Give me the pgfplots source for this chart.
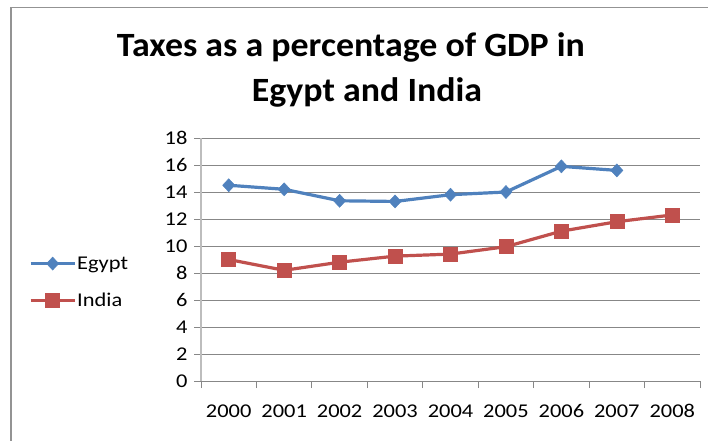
\documentclass[border=0pt]{standalone}
\usepackage{fontspec}
\setmainfont{Carlito}
\newfontfamily\tickfont[FakeStretch=1.15]{Carlito}
\newfontfamily\titlefont[FakeStretch=1.055]{Carlito}
\usepackage{pgfplots}
\pgfplotsset{compat=1.18}
\definecolor{egypt}{HTML}{4F81BD}
\definecolor{india}{HTML}{C0504D}
\definecolor{gridgray}{HTML}{878787}
\definecolor{axisgray}{HTML}{BDBDBD}
\begin{document}
\begin{tikzpicture}[x=1pt,y=1pt]
\path[use as bounding box] (0,0) rectangle (708,440);
\draw[color=gridgray!90, line width=1.6pt] (11,-20) -- (11,432.5) -- (730,432.5);
\node[anchor=base, font=\titlefont\fontsize{34}{40}\selectfont\bfseries] at (351,383) {Taxes as a percentage of GDP in};
\node[anchor=base, font=\titlefont\fontsize{34}{40}\selectfont\bfseries] at (367,338) {Egypt and India};
\begin{axis}[
  at={(201pt,59pt)}, anchor=south west,
  scale only axis, width=499pt, height=243pt,
  xmin=-0.5, xmax=8.5, ymin=0, ymax=18,
  axis x line=bottom, axis y line=left,
  axis line style={-, draw=gridgray, line width=1pt},
  y axis line style={draw=axisgray, line width=1.5pt},
  ytick={0,2,...,18},
  ymajorgrids, grid style={gridgray, line width=1pt},
  xtick={-0.5,0.5,...,8.5}, xticklabels={},
  extra x ticks={0,1,...,8},
  extra x tick labels={2000,2001,2002,2003,2004,2005,2006,2007,2008},
  extra x tick style={major tick length=0pt, grid=none,
     tick label style={yshift=-20pt}},
  tick align=outside, major tick length=7pt,
  tick style={gridgray, line width=1pt},
  /pgf/number format/assume math mode=true,
  tick label style={font=\tickfont\fontsize{19.5}{22}\selectfont},
  y tick label style={xshift=-3pt},
  legend style={at={(axis description cs:-0.345,0.407)}, anchor=west,
     draw=none, fill=none, inner sep=0pt, row sep=20pt,
     font=\tickfont\fontsize{19.5}{22}\selectfont,
     nodes={inner sep=1pt}},
  legend cell align=left,
  legend image code/.code={
    \draw[mark repeat=2, mark phase=2] plot coordinates {(0pt,0pt) (22pt,0pt) (44pt,0pt)};
  },
]
\addplot[color=egypt, line width=3.2pt, mark=diamond*, mark size=6.5pt,
  mark options={solid, line width=0.5pt, xscale=1.25}]
  coordinates {(0,14.5) (1,14.2) (2,13.35) (3,13.3) (4,13.8) (5,14.0) (6,15.9) (7,15.6)};
\addlegendentry{Egypt}
\addplot[color=india, line width=3.2pt, mark=square*, mark size=7pt,
  mark options={solid, line width=0.5pt}]
  coordinates {(0,9.0) (1,8.2) (2,8.8) (3,9.25) (4,9.4) (5,9.95) (6,11.1) (7,11.8) (8,12.3)};
\addlegendentry{India}
\end{axis}
\end{tikzpicture}
\end{document}
